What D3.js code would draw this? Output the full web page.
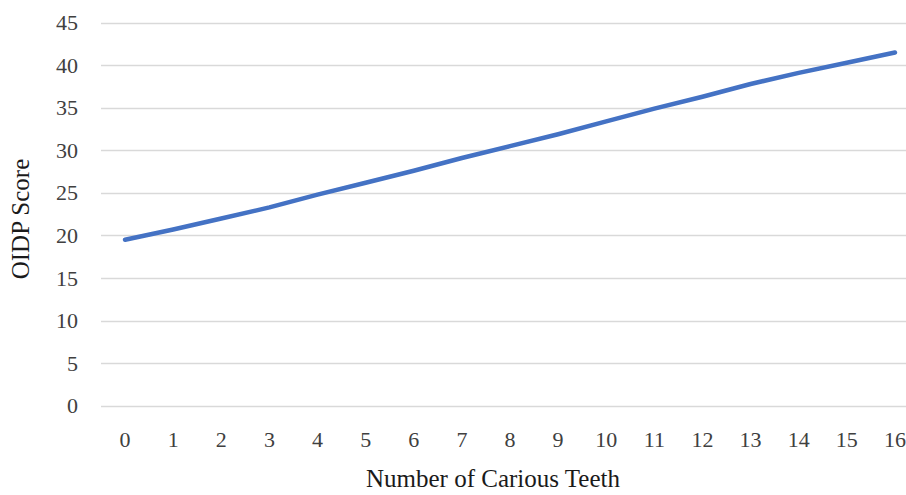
<!DOCTYPE html>
<html>
<head>
<meta charset="utf-8">
<script src="https://cdn.jsdelivr.net/npm/d3@7"></script>
<style>
  html, body { margin: 0; padding: 0; background: #fff; }
  svg { display: block; }
</style>
</head>
<body>
<svg></svg>
<script>
var teeth = ["0", "1", "2", "3", "4", "5", "6", "7", "8", "9", "10", "11", "12", "13", "14", "15", "16"];
var oidpScore = [19.5, 20.7, 22.0, 23.3, 24.8, 26.2, 27.6, 29.1, 30.5, 31.9, 33.4, 34.9, 36.3, 37.8, 39.1, 40.3, 41.5];
var yTicks = [0, 5, 10, 15, 20, 25, 30, 35, 40, 45];

var data = teeth.map((t, i) => ({ teeth: t, score: oidpScore[i] }));

const svgWidth = 906,
    svgHeight = 495;

var svg = d3.select("svg")
    .attr("width", svgWidth)
    .attr("height", svgHeight);

var x = d3.scaleBand()
    .domain(teeth)
    .range([101, 919]);

var y = d3.scaleLinear()
    .domain([0, 45])
    .range([405.7, 22.7]);

var font = "Liberation Serif";

// gridlines
svg.append("g")
    .selectAll("line")
    .data(yTicks)
    .enter()
    .append("line")
    .attr("x1", 101)
    .attr("x2", svgWidth)
    .attr("y1", d => Math.round(y(d)) + 0.5)
    .attr("y2", d => Math.round(y(d)) + 0.5)
    .attr("stroke", "#d9d9d9")
    .attr("stroke-width", 1.3);

// y axis labels
var yAxis = d3.axisLeft(y).tickValues(yTicks).tickSize(0).tickPadding(0);
svg.append("g")
    .attr("transform", "translate(78,0)")
    .call(yAxis)
    .call(g => g.select(".domain").remove());

// x axis labels
var xAxis = d3.axisBottom(x).tickSize(0).tickPadding(0);
svg.append("g")
    .attr("class", "x-axis")
    .attr("transform", "translate(0,447)")
    .call(xAxis)
    .call(g => g.select(".domain").remove())
    .call(g => g.selectAll(".tick text").attr("y", 0).attr("dy", 0));

svg.selectAll(".tick text")
    .attr("font-family", font)
    .attr("font-size", 22)
    .attr("fill", "#404040");

// line
var line = d3.line()
    .x(d => x(d.teeth) + x.bandwidth() / 2)
    .y(d => y(d.score));

svg.append("path")
    .datum(data)
    .attr("d", line)
    .attr("fill", "none")
    .attr("stroke", "#4472c4")
    .attr("stroke-width", 4.5)
    .attr("stroke-linecap", "round")
    .attr("stroke-linejoin", "round");

// axis titles
svg.append("text")
    .attr("x", 493)
    .attr("y", 487)
    .attr("text-anchor", "middle")
    .attr("font-family", font)
    .attr("font-size", 25)
    .attr("fill", "#1a1a1a")
    .text("Number of Carious Teeth");

svg.append("text")
    .attr("transform", "translate(28.5,219) rotate(-90)")
    .attr("text-anchor", "middle")
    .attr("font-family", font)
    .attr("font-size", 25)
    .attr("fill", "#1a1a1a")
    .text("OIDP Score");
</script>
</body>
</html>
